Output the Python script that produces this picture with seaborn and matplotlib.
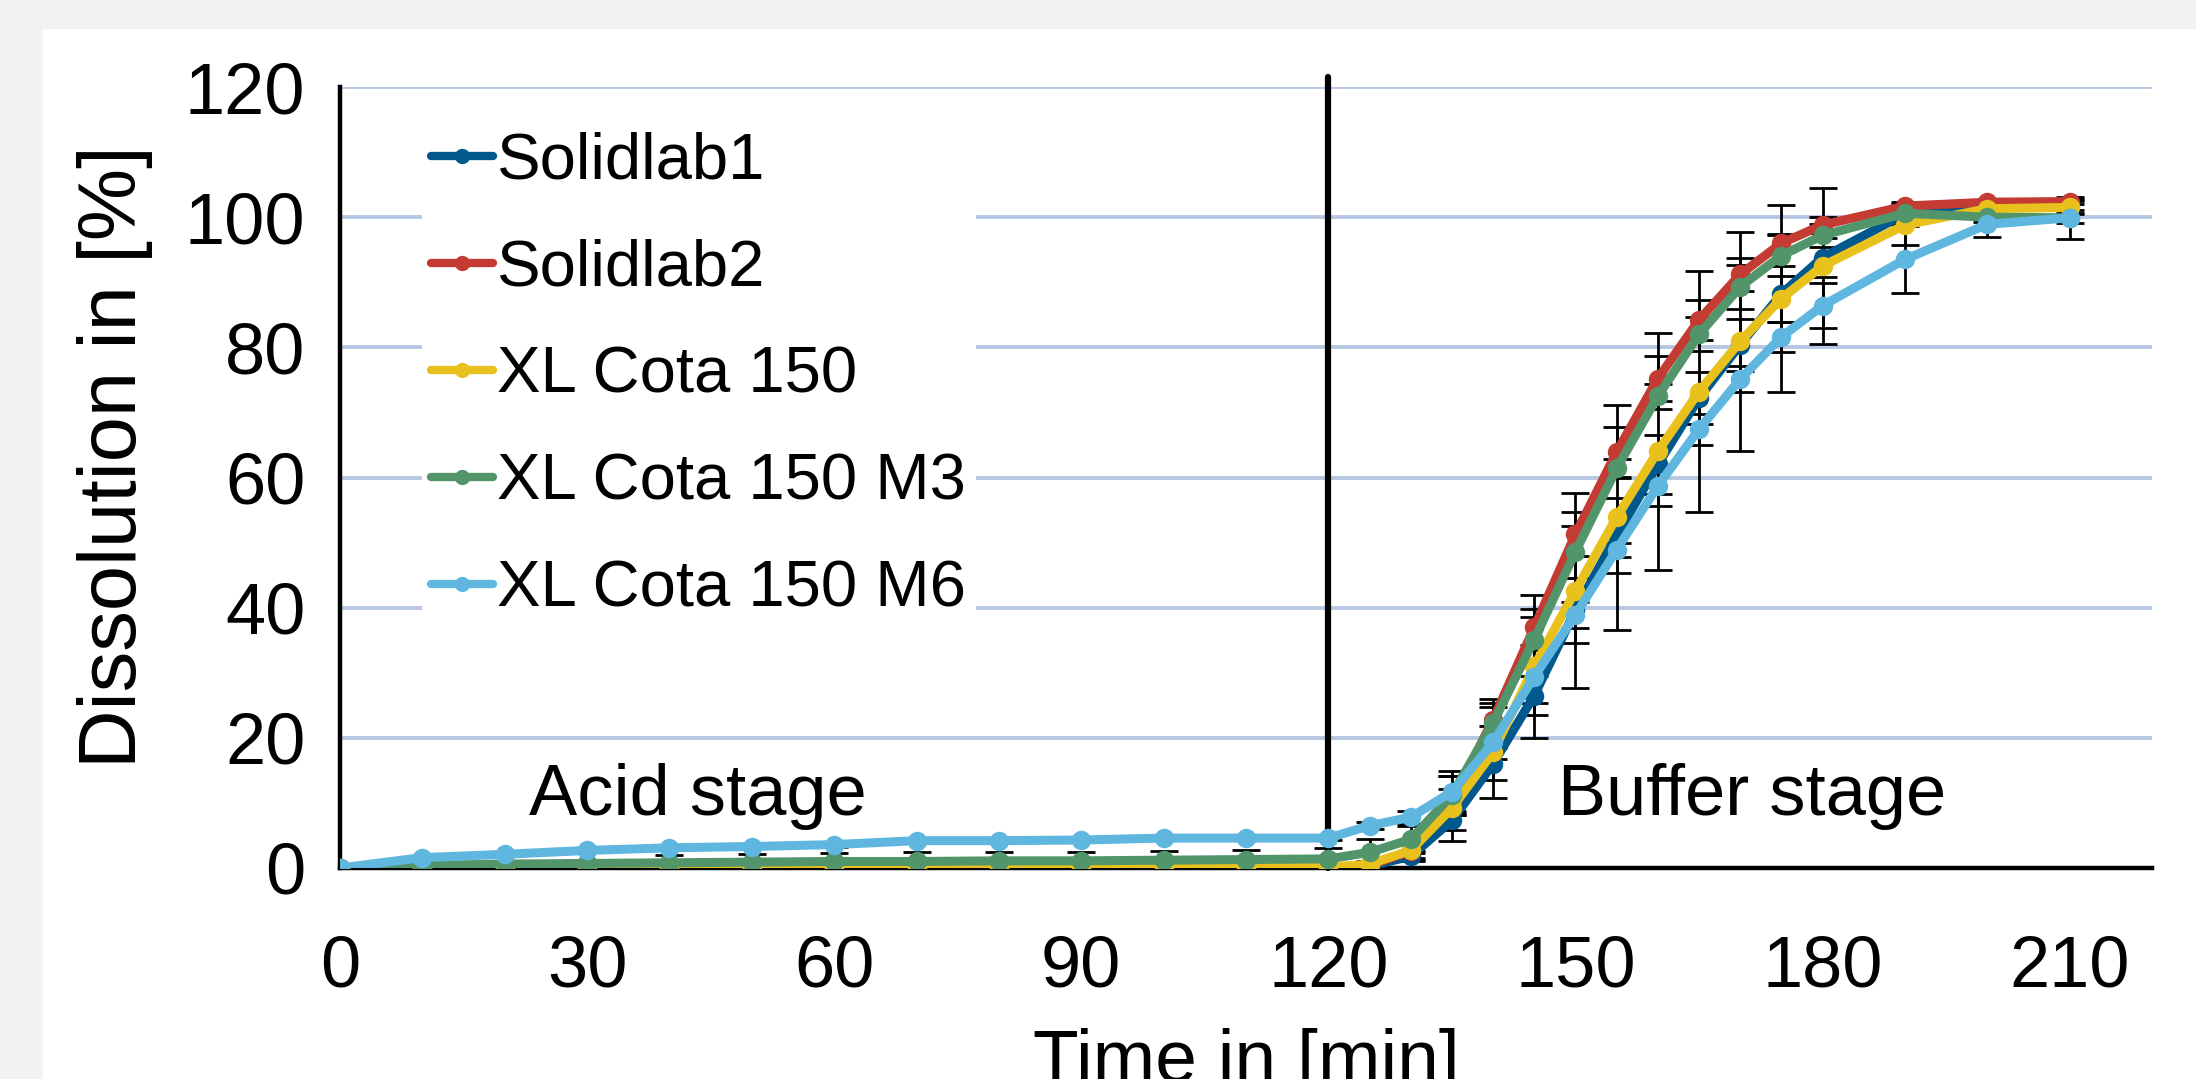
import matplotlib
matplotlib.use("Agg")
import matplotlib.pyplot as plt
import seaborn as sns
import pandas as pd
from matplotlib.lines import Line2D
from matplotlib.patches import Rectangle

# ---------------- data ----------------
time = [0, 10, 20, 30, 40, 50, 60, 70, 80, 90, 100, 110, 120,
        125, 130, 135, 140, 145, 150, 155, 160, 165, 170, 175, 180,
        190, 200, 210]

series_names = ["Solidlab1", "Solidlab2", "XL Cota 150", "XL Cota 150 M3", "XL Cota 150 M6"]
series_colors = ["#00588d", "#c33b33", "#e8c11c", "#52956a", "#5fb7e0"]

solidlab1 = [0, 0, 0, 0, 0, 0, 0, 0, 0, 0, 0, 0, 0,
             0.3, 1.8, 7.3, 16.0, 26.5, 39.6, 51.1, 62.0, 72.2, 80.4, 88.2, 93.8,
             100.5, 101.7, 101.9]
solidlab1_sd = [0, 0, 0, 0, 0, 0, 0, 0, 0, 0, 0, 0, 0,
                0.3, 0.8, 1.5, 2.5, 3.0, 5.0, 5.8, 4.5, 4.0, 4.0, 4.3, 3.0,
                1.5, 0.8, 0.8]

solidlab2 = [0, 0, 0, 0, 0, 0, 0, 0, 0, 0, 0, 0, 0,
             0.4, 2.6, 10.2, 22.8, 37.0, 51.3, 63.9, 75.2, 84.2, 91.2, 96.0, 98.8,
             101.7, 102.3, 102.4]
solidlab2_sd = [0, 0, 0, 0, 0, 0, 0, 0, 0, 0, 0, 0, 0,
                0.3, 1.0, 2.0, 3.2, 2.8, 3.4, 3.8, 3.4, 3.0, 2.6, 1.4, 1.2,
                0.6, 0.3, 0.4]

xl150 = [0, 0.1, 0.1, 0.1, 0.1, 0.1, 0.1, 0.1, 0.1, 0.1, 0.1, 0.1, 0.1,
         0.6, 2.7, 9.2, 17.8, 31.0, 42.6, 53.9, 64.0, 73.2, 80.9, 87.5, 92.5,
         98.8, 101.3, 101.5]
xl150_sd = [0, 0, 0, 0, 0, 0, 0, 0, 0, 0, 0, 0, 0,
            0.5, 1.5, 5.0, 7.0, 11.0, 15.0, 17.3, 18.2, 18.5, 16.8, 14.3, 12.0,
            3.0, 1.2, 1.0]

xl150_m3 = [0, 0.4, 0.6, 0.7, 0.8, 0.9, 1.0, 1.0, 1.1, 1.1, 1.2, 1.3, 1.4,
            2.4, 4.4, 11.2, 22.3, 35.1, 48.6, 61.4, 72.5, 82.0, 89.3, 94.1, 97.2,
            100.6, 100.0, 99.9]
xl150_m3_sd = [0, 0.3, 0.5, 0.6, 1.2, 1.2, 1.3, 1.4, 1.4, 1.4, 1.4, 1.4, 1.6,
               2.0, 2.1, 3.0, 3.1, 3.5, 4.0, 1.5, 1.9, 2.6, 3.4, 3.1, 1.8,
               1.0, 0.8, 0.8]

xl150_m6 = [0, 1.6, 2.1, 2.7, 3.1, 3.3, 3.6, 4.2, 4.2, 4.3, 4.6, 4.6, 4.6,
            6.5, 7.8, 11.7, 19.3, 29.4, 38.9, 48.9, 58.7, 67.4, 75.1, 81.6, 86.4,
            93.5, 98.9, 99.9]
xl150_m6_sd = [0, 0.3, 0.3, 0.3, 0.3, 0.3, 0.3, 0.3, 0.3, 0.3, 0.3, 0.3, 0.3,
               0.5, 1.0, 3.2, 2.5, 4.1, 2.0, 1.1, 3.1, 2.4, 2.0, 2.3, 3.5,
               5.1, 2.0, 3.2]

all_values = [solidlab1, solidlab2, xl150, xl150_m3, xl150_m6]
all_sd = [solidlab1_sd, solidlab2_sd, xl150_sd, xl150_m3_sd, xl150_m6_sd]

x_ticks = [0, 30, 60, 90, 120, 150, 180, 210]
y_ticks = [0, 20, 40, 60, 80, 100, 120]

rows = []
for name, vals in zip(series_names, all_values):
    for t, v in zip(time, vals):
        rows.append({"time": t, "value": v, "series": name})
df = pd.DataFrame(rows)

# ---------------- style ----------------
sns.set_style("white")
plt.rcParams["font.family"] = ["Liberation Sans", "DejaVu Sans"]
plt.rcParams["text.color"] = "black"

W, H = 2196, 1079
fig = plt.figure(figsize=(W / 100, H / 100), dpi=100, facecolor="#f2f2f2")
fig.patches.append(Rectangle((43 / W, 0), 1, 1 - 29 / H, transform=fig.transFigure,
                             facecolor="white", edgecolor="none", zorder=-10))

ax = fig.add_axes([340 / W, 1 - 868 / H, 1812 / W, 781 / H])
ax.patch.set_alpha(0)

palette = dict(zip(series_names, series_colors))

# error bars (behind lines)
for vals, sd in zip(all_values, all_sd):
    ax.errorbar(time, vals, yerr=sd, fmt="none", ecolor="black", elinewidth=2.0,
                capsize=10, capthick=2.0, zorder=1.6)

# vertical separator
ax.plot([120, 120], [0, 121.5], color="black", lw=4.5, clip_on=False, zorder=1.5)

sns.lineplot(data=df, x="time", y="value", hue="series", hue_order=series_names,
             palette=palette, marker="o", markersize=14, markeredgewidth=0,
             linewidth=6.5, legend=False, ax=ax, zorder=3)
for ln in ax.get_lines():
    if ln.get_marker() == "o":
        ln.set_linewidth(6.5)
        ln.set_markersize(14)
        ln.set_markeredgewidth(0)

ax.set_xlim(0, 220)
ax.set_ylim(0, 120)
ax.set_xticks(x_ticks)
ax.set_yticks(y_ticks)
ax.yaxis.grid(True, color="#b7c6e3", lw=2.8, zorder=0)
ax.xaxis.grid(False)
ax.set_axisbelow(True)

for s in ["top", "right"]:
    ax.spines[s].set_visible(False)
for s in ["left", "bottom"]:
    ax.spines[s].set_color("black")
    ax.spines[s].set_linewidth(3.2)

ax.tick_params(axis="both", direction="out", length=16, width=3.2, color="black",
               labelsize=52, labelcolor="black")
ax.tick_params(axis="x", pad=32)
ax.tick_params(axis="y", pad=9)

ax.set_xlabel("Time in [min]", fontsize=54, labelpad=19, color="black")
ax.set_ylabel("Dissolution in [%]", fontsize=58.5, color="black")
ax.yaxis.set_label_coords(-0.103, 0.527)

ax.text(43.5, 8.15, "Acid stage", fontsize=52, ha="center", va="baseline", color="black")
ax.text(171.4, 8.15, "Buffer stage", fontsize=52, ha="center", va="baseline", color="black")

handles = [Line2D([], [], color=c, lw=6, marker="o", markersize=11, markeredgewidth=0)
           for c in series_colors]
leg = ax.legend(handles, series_names, loc="upper left", bbox_to_anchor=(0.045, 0.955),
                fontsize=47, frameon=True, facecolor="white", edgecolor="none",
                framealpha=1, borderpad=0.15, handlelength=0.95, handletextpad=0.06,
                labelspacing=0.72, borderaxespad=0)
for t in leg.get_texts():
    t.set_color("black")
leg.set_zorder(2)

fig.savefig("out.png", dpi=100, facecolor=fig.get_facecolor())
